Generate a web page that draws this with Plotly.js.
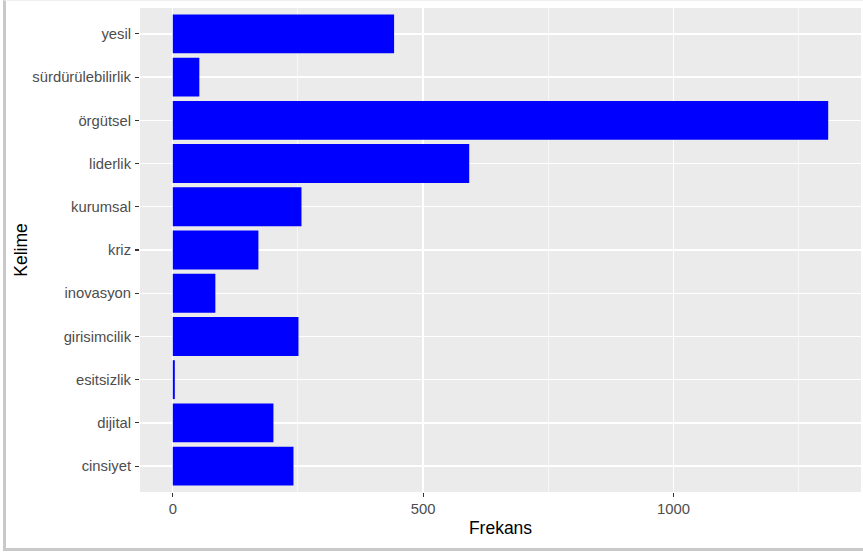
<!DOCTYPE html>
<html>
<head>
<meta charset="utf-8">
<script src="https://cdn.plot.ly/plotly-3.0.1.min.js"></script>
<style>
  html, body { margin: 0; padding: 0; background: #ffffff; }
  #wrap { position: relative; width: 863px; height: 553px; overflow: hidden; }
  #chart { position: absolute; left: 0; top: 0; width: 863px; height: 553px; }
  #frame { position: absolute; left: 3px; top: 0px; width: 880px; height: 547px;
           border-left: 3px solid #c9c9c9; border-bottom: 3px solid #c9c9c9; border-top: 1px solid #f0f0f0;
           pointer-events: none; box-sizing: content-box; }
</style>
</head>
<body>
<div id="wrap">
  <div id="chart"></div>
  <div id="frame"></div>
</div>
<script>
const words = ["cinsiyet", "dijital", "esitsizlik", "girisimcilik", "inovasyon", "kriz",
               "kurumsal", "liderlik", "örgütsel", "sürdürülebilirlik", "yesil"];
const frequencies = [241, 201, 4, 251, 85, 171, 257, 592, 1309, 53, 442];
const xTickValues = [0, 500, 1000];
const xTickLabels = ["0", "500", "1000"];

const trace = {
  type: "bar",
  orientation: "h",
  x: frequencies,
  y: words,
  width: 0.9,
  marker: { color: "#0000ff", line: { width: 0 } },
  hoverinfo: "x+y"
};

const font = "Liberation Sans, Arial, Helvetica, sans-serif";

const layout = {
  width: 863,
  height: 553,
  margin: { l: 140, r: 2, t: 8, b: 61 },
  paper_bgcolor: "rgba(0,0,0,0)",
  plot_bgcolor: "#ebebeb",
  showlegend: false,
  font: { family: font },
  xaxis: {
    range: [-65.5, 1374.5],
    tickvals: xTickValues,
    ticktext: xTickLabels,
    ticks: "outside",
    ticklen: 4,
    tickwidth: 1.1,
    tickcolor: "#333333",
    tickfont: { family: font, size: 14.8, color: "#4d4d4d" },
    ticklabelstandoff: -1,
    showgrid: true,
    gridcolor: "#ffffff",
    gridwidth: 1.3,
    minor: { showgrid: true, gridcolor: "#ffffff", gridwidth: 0.6, tickvals: [250, 750, 1250], ticks: "" },
    zeroline: false,
    showline: false,
    title: { text: "Frekans", font: { family: font, size: 17.5, color: "#000000" }, standoff: 5 },
    fixedrange: true
  },
  yaxis: {
    type: "category",
    categoryorder: "array",
    categoryarray: words,
    range: [-0.6, 10.6],
    ticks: "outside",
    ticklen: 4,
    tickwidth: 1.1,
    tickcolor: "#333333",
    tickfont: { family: font, size: 14.8, color: "#4d4d4d" },
    ticklabelstandoff: 1,
    showgrid: true,
    gridcolor: "#ffffff",
    gridwidth: 1.3,
    zeroline: false,
    showline: false,
    title: { text: "Kelime", font: { family: font, size: 17.5, color: "#000000" }, standoff: 0 },
    fixedrange: true
  }
};

Plotly.newPlot("chart", [trace], layout, { displayModeBar: false, staticPlot: true });
</script>
</body>
</html>
